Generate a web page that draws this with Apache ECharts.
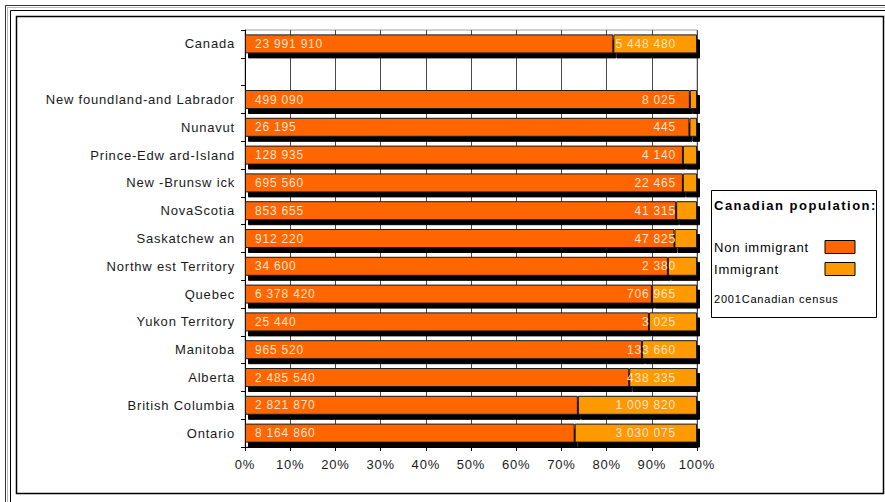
<!DOCTYPE html>
<html>
<head>
<meta charset="utf-8">
<script src="https://cdn.jsdelivr.net/npm/echarts@6/dist/echarts.min.js"></script>
<style>
  html, body { margin: 0; padding: 0; background: #fff; }
  #chart { width: 885px; height: 502px; }
  #chart svg text { letter-spacing: 0.8px; }
</style>
</head>
<body>
<div id="chart"></div>
<script>
// Provinces and territories, top to bottom ('' is the spacer row under Canada)
const regions = ['Canada', '', 'New foundland-and Labrador', 'Nunavut', 'Prince-Edw ard-Island',
  'New -Brunsw ick', 'NovaScotia', 'Saskatchew an', 'Northw est Territory', 'Quebec',
  'Yukon Territory', 'Manitoba', 'Alberta', 'British Columbia', 'Ontario'];
const nonImmigrant = [23991910, null, 499090, 26195, 128935, 695560, 853655, 912220, 34600,
  6378420, 25440, 965520, 2485540, 2821870, 8164860];
const immigrant = [5448480, null, 8025, 445, 4140, 22465, 41315, 47825, 2380,
  706965, 3025, 133660, 438335, 1009820, 3030075];
const seriesNames = ['Non immigrant', 'Immigrant'];
const percentTicks = [0, 10, 20, 30, 40, 50, 60, 70, 80, 90, 100];

const fmt = n => String(n).replace(/\B(?=(\d{3})+(?!\d))/g, ' ');

// share of each group in its region's total, keeping the head count for the label
function shares(part) {
  return part.map((v, i) => {
    if (v == null) return { value: null };
    const total = nonImmigrant[i] + immigrant[i];
    return { value: v / total * 100, count: v };
  });
}

const FONT = "'Liberation Sans', Arial, sans-serif";
const barStyle = (color) => ({
  color: color,
  borderColor: '#1a1a1a',
  borderWidth: 1,
  shadowColor: '#000',
  shadowBlur: 0,
  shadowOffsetX: 3,
  shadowOffsetY: 5
});

const chart = echarts.init(document.getElementById('chart'), null, { renderer: 'svg' });

chart.setOption({
  animation: false,
  backgroundColor: '#fff',
  grid: {
    left: 245, right: 188, top: 30, bottom: 55,
    show: true, borderColor: '#a0a0a0', borderWidth: 1
  },
  xAxis: {
    type: 'value', min: 0, max: 100, interval: 10,
    axisLine: { show: true, lineStyle: { color: '#000', width: 1 } },
    axisTick: { show: true, length: 4, lineStyle: { color: '#000' } },
    axisLabel: {
      margin: 11, color: '#1a1a1a', fontSize: 13, fontFamily: FONT,
      formatter: v => percentTicks.includes(v) ? v + '%' : ''
    },
    splitLine: { show: true, lineStyle: { color: '#4a4a4a', width: 1 } }
  },
  yAxis: {
    type: 'category', data: regions, inverse: true,
    axisLine: { show: true, lineStyle: { color: '#000', width: 1 } },
    axisTick: { show: true, length: 4, lineStyle: { color: '#000' } },
    axisLabel: { margin: 10, color: '#1a1a1a', fontSize: 13, fontFamily: FONT },
    splitLine: { show: false }
  },
  legend: {
    data: seriesNames,
    orient: 'vertical', align: 'right',
    left: 714, top: 240, padding: 0,
    itemWidth: 30, itemHeight: 13, itemGap: 8,
    icon: 'rect',
    itemStyle: { borderColor: '#000', borderWidth: 1 },
    formatter: name => '{n|' + name + '}',
    textStyle: {
      color: '#000', fontSize: 13, fontFamily: FONT,
      rich: { n: { width: 106, align: 'left', color: '#000', fontSize: 13, fontFamily: FONT } }
    }
  },
  series: [
    {
      name: seriesNames[0], type: 'bar', stack: 'pop', barWidth: 19,
      data: shares(nonImmigrant),
      itemStyle: barStyle('#ff6600'),
      label: {
        show: true, position: 'insideLeft', distance: 10,
        color: '#fde3cf', fontSize: 12, fontFamily: FONT,
        formatter: p => p.data.count != null ? fmt(p.data.count) : ''
      }
    },
    {
      name: seriesNames[1], type: 'bar', stack: 'pop', barWidth: 19,
      data: shares(immigrant),
      itemStyle: barStyle('#ff9900'),
      label: {
        show: true, position: 'insideRight', distance: 21,
        color: '#fde3cf', fontSize: 12, fontFamily: FONT,
        formatter: p => p.data.count != null ? fmt(p.data.count) : ''
      }
    }
  ],
  graphic: [
    // page frame
    { type: 'rect', silent: true, shape: { x: 5.5, y: 5.5, width: 900, height: 520 },
      style: { fill: 'none', stroke: '#333', lineWidth: 1 } },
    { type: 'rect', silent: true, shape: { x: 7.5, y: 7.5, width: 900, height: 520 },
      style: { fill: 'none', stroke: '#bbb', lineWidth: 1 } },
    { type: 'rect', silent: true, shape: { x: 10.5, y: 10.5, width: 900, height: 520 },
      style: { fill: 'none', stroke: '#000', lineWidth: 1 } },
    { type: 'rect', silent: true, shape: { x: 16.5, y: 16.5, width: 867, height: 477 },
      style: { fill: 'none', stroke: '#000', lineWidth: 1.5 } },
    // legend box
    { type: 'rect', silent: true, shape: { x: 711.5, y: 190.5, width: 165, height: 127 },
      style: { fill: 'none', stroke: '#000', lineWidth: 1 } },
    { type: 'text', id: 'legendTitle', silent: true, left: 714, top: 199,
      style: { text: 'Canadian population:', fill: '#000', font: "bold 13px 'Liberation Sans', Arial, sans-serif" } },
    { type: 'text', silent: true, left: 714, top: 293,
      style: { text: '2001Canadian census', fill: '#000', font: "11px 'Liberation Sans', Arial, sans-serif" } }
  ]
});

// the legend heading is set wider than the rest of the text
function spaceHeading() {
  document.querySelectorAll('#chart svg text').forEach(t => {
    if (t.textContent.trim() === 'Canadian population:') {
      t.setAttribute('letter-spacing', '1.5');
      t.style.setProperty('letter-spacing', '1.5px', 'important');
    }
  });
}
chart.on('finished', spaceHeading);
setTimeout(spaceHeading, 0);
setTimeout(spaceHeading, 100);
</script>
</body>
</html>
